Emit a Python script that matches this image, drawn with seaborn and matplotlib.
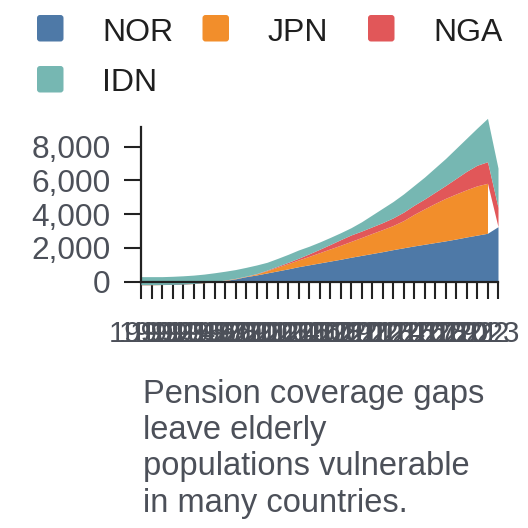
import matplotlib
matplotlib.use("Agg")
import matplotlib.pyplot as plt
import numpy as np
import seaborn as sns
from matplotlib.patches import FancyBboxPatch

# --- data ---
years = list(range(1990, 2025))
series_names = ["NOR", "JPN", "NGA", "IDN"]
series_colors = ["#4e79a7", "#f28e2b", "#e15759", "#76b7b2"]

nor = [-180, -180, -170, -160, -140, -110, -60, 0, 70, 170,
       300, 400, 520, 640, 760, 890, 1000, 1110, 1220, 1330,
       1450, 1560, 1670, 1780, 1900, 2010, 2120, 2220, 2320, 2420,
       2530, 2650, 2760, 2870, 3260]
jpn = [10, 10, 10, 10, 10, 10, 15, 15, 20, 20,
       20, 60, 130, 220, 310, 400, 500, 610, 720, 830,
       940, 1060, 1190, 1310, 1430, 1610, 1870, 2100, 2320, 2520,
       2670, 2800, 2920, 2960, np.nan]
nga = [5, 5, 5, 5, 5, 5, 5, 5, 8, 8,
       10, 20, 35, 55, 75, 100, 150, 200, 260, 330,
       380, 380, 390, 410, 450, 500, 540, 580, 660, 760,
       920, 1090, 1220, 1280, 1150]
idn = [465, 465, 455, 465, 475, 485, 490, 510, 522, 522,
       520, 510, 465, 465, 475, 490, 450, 430, 420, 410,
       430, 550, 700, 850, 970, 1080, 1170, 1300, 1450, 1600,
       1780, 1960, 2200, 2570, 2320]

y_ticks = [0, 2000, 4000, 6000, 8000]
x_tick_labels = [str(y) for y in years[:-1]] + [""]
title_text = "Pension coverage gaps\nleave elderly\npopulations vulnerable\nin many countries."

# --- style ---
sns.set_theme(style="ticks")
plt.rcParams["font.family"] = ["Liberation Sans", "DejaVu Sans"]
AXIS = "#222222"
LABEL = "#4c5059"
PX = 528.0

fig = plt.figure(figsize=(5.28, 5.28), dpi=100)
ax = fig.add_axes([141 / PX, 1 - 281.7 / PX, (498 - 141) / PX, (281.7 - 126.7) / PX])

# manual stack (missing values count as zero for the layers above)
base = np.zeros(len(years))
for name, vals, color in zip(series_names, [nor, jpn, nga, idn], series_colors):
    v = np.array(vals, dtype=float)
    top = base + v
    ax.fill_between(years, base, top, color=color, linewidth=0, clip_on=False)
    base = base + np.nan_to_num(v)

ax.set_xlim(1990, 2024)
ax.set_ylim(0, 9185)
ax.set_xticks(years)
ax.set_xticklabels(x_tick_labels)
ax.set_yticks(y_ticks)
ax.set_yticklabels([f"{t:,}" for t in y_ticks])

for side in ["top", "right"]:
    ax.spines[side].set_visible(False)
for side in ["left", "bottom"]:
    ax.spines[side].set_color(AXIS)
    ax.spines[side].set_linewidth(1.6)
ax.tick_params(axis="both", length=12, width=1.5, color=AXIS, labelcolor=LABEL)
ax.tick_params(axis="y", pad=10, labelsize=22.8)
ax.tick_params(axis="x", pad=15.5, labelsize=21.2)
ax.set_xlabel("")
ax.set_ylabel("")

# legend, Vega-style fixed columns
for i, (name, color) in enumerate(zip(series_names, series_colors)):
    col, row = i % 3, i // 3
    x0 = 37 + col * 165.5
    y0 = 15 + row * 51
    fig.patches.append(FancyBboxPatch(
        (x0 / PX, 1 - (y0 + 26.5) / PX), 26.5 / PX, 26.5 / PX,
        boxstyle=f"round,pad=0,rounding_size={3 / PX}",
        transform=fig.transFigure, facecolor=color, edgecolor="none"))
    fig.text((x0 + 65) / PX, 1 - (41 + row * 50.3) / PX, name,
             fontsize=23, color="#1f1f1f", va="baseline", ha="left")

# multi-line text: 'baseline' anchors the last line
fig.text(143 / PX, 1 - 511.7 / PX, title_text, fontsize=23.5, color=LABEL,
         va="baseline", ha="left", linespacing=1.22)

fig.savefig("out.png", dpi=100)
